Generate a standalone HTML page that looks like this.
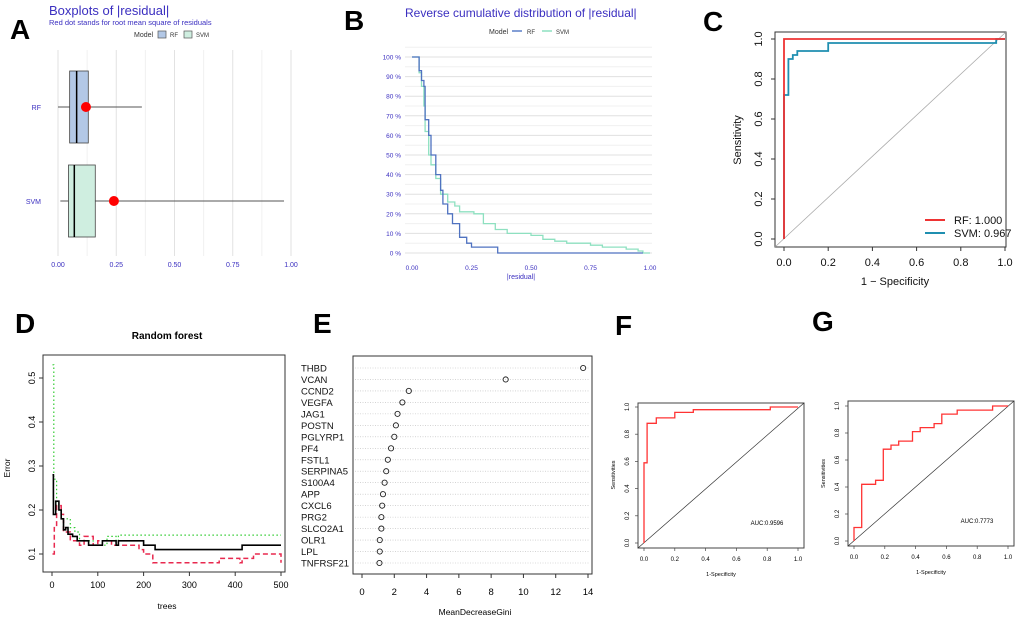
<!DOCTYPE html>
<html><head><meta charset="utf-8"><style>
body{margin:0;background:#fff}
svg{display:block;font-family:"Liberation Sans",sans-serif}
</style></head><body>
<svg id="fig" width="1020" height="621" viewBox="0 0 1020 621">
<g font-weight="bold" font-size="28" fill="#000">
<text x="10" y="39">A</text><text x="344" y="30">B</text><text x="703" y="31">C</text>
<text x="15" y="333">D</text><text x="313" y="333">E</text><text x="615" y="335">F</text><text x="812" y="331">G</text>
</g>
<g>
<text x="49" y="15" font-size="13" fill="#3b2fc0">Boxplots of |residual|</text>
<text x="49" y="25" font-size="7.5" fill="#3b2fc0">Red dot stands for root mean square of residuals</text>
<text x="134" y="37" font-size="7" fill="#333">Model</text>
<rect x="158" y="31" width="8" height="7" fill="#b3c8e6" stroke="#555" stroke-width="0.7"/><text x="170" y="37" font-size="6" fill="#333">RF</text>
<rect x="184" y="31" width="8" height="7" fill="#cfeee0" stroke="#555" stroke-width="0.7"/><text x="196" y="37" font-size="6" fill="#333">SVM</text>
</g>
<g>
<text x="405" y="17" font-size="12" fill="#3b2fc0">Reverse cumulative distribution of |residual|</text>
<text x="489" y="34" font-size="7" fill="#333">Model</text>
<line x1="512" y1="31" x2="522" y2="31" stroke="#5a7fc8" stroke-width="1.5"/><text x="527" y="34" font-size="6" fill="#333">RF</text>
<line x1="542" y1="31" x2="552" y2="31" stroke="#8ee0c0" stroke-width="1.5"/><text x="556" y="34" font-size="6" fill="#333">SVM</text>
</g>
<g id="A"></g><g id="B"></g><g id="C"></g><g id="D"></g><g id="E"></g><g id="F"></g><g id="G"></g>
</svg>
<script>
// ---- Panel A data
const boxModels=["RF","SVM"];
const boxLow=[0.0,0.01], boxQ1=[0.05,0.045], boxMed=[0.08,0.07], boxQ3=[0.13,0.16], boxHigh=[0.36,0.97], boxRmse=[0.12,0.24];
const aTicks=[0,0.25,0.5,0.75,1.0], aTickLabels=["0.00","0.25","0.50","0.75","1.00"];
// ---- Panel B data
const rfResX=[0,0.02,0.03,0.04,0.05,0.055,0.07,0.08,0.1,0.12,0.13,0.15,0.17,0.2,0.23,0.25,0.35,0.36,0.97];
const rfResY=[100,100,93,88,85,68,60,50,40,32,25,20,15,8,5,3,3,0,0];
const svmResX=[0,0.02,0.03,0.04,0.05,0.055,0.07,0.08,0.1,0.12,0.15,0.18,0.2,0.26,0.3,0.35,0.4,0.5,0.55,0.6,0.65,0.75,0.8,0.9,0.95,0.97,1.0];
const svmResY=[100,100,92,85,75,62,50,45,38,30,26,24,21,20,15,12,10,9,7,6,5,4,3,2,1,0,0];
const bYTicks=[0,10,20,30,40,50,60,70,80,90,100];
// ---- Panel C data
const cRfX=[0,0,0,0.96,1], cRfY=[0,0.72,1,1,1];
const cSvmX=[0,0,0.02,0.02,0.04,0.04,0.06,0.06,0.2,0.2,0.96,0.96,1];
const cSvmY=[0,0.72,0.72,0.9,0.9,0.92,0.92,0.94,0.94,0.98,0.98,1,1];
const cTicks=[0,0.2,0.4,0.6,0.8,1.0];
// ---- Panel D data
const dOobT=[1,3,8,15,20,25,30,35,45,55,70,80,100,110,130,140,145,190,200,225,360,365,410,415,500];
const dOobE=[0.28,0.19,0.22,0.2,0.18,0.155,0.16,0.145,0.14,0.13,0.13,0.12,0.12,0.13,0.13,0.12,0.13,0.13,0.12,0.11,0.11,0.11,0.11,0.12,0.12];
const dRedT=[1,5,10,20,25,40,60,70,90,100,130,150,190,200,220,360,365,410,415,440,500];
const dRedE=[0.1,0.16,0.21,0.19,0.15,0.13,0.12,0.14,0.12,0.13,0.12,0.12,0.11,0.1,0.08,0.08,0.09,0.08,0.09,0.1,0.08];
const dGrnT=[1,4,10,20,30,40,50,60,90,120,140,145,500];
const dGrnE=[0.53,0.27,0.2,0.18,0.18,0.16,0.15,0.13,0.12,0.14,0.12,0.143,0.143];
const dXTicks=[0,100,200,300,400,500], dYTicks=[0.1,0.2,0.3,0.4,0.5];
// ---- Panel E data
const genes=["THBD","VCAN","CCND2","VEGFA","JAG1","POSTN","PGLYRP1","PF4","FSTL1","SERPINA5","S100A4","APP","CXCL6","PRG2","SLCO2A1","OLR1","LPL","TNFRSF21"];
const gini=[13.7,8.9,2.9,2.5,2.2,2.1,2.0,1.8,1.6,1.5,1.4,1.3,1.25,1.2,1.2,1.1,1.1,1.08];
const eTicks=[0,2,4,6,8,10,12,14];
// ---- Panel F/G data
const fX=[0,0,0.02,0.02,0.08,0.08,0.2,0.2,0.32,0.32,0.82,0.82,1];
const fY=[0,0.59,0.59,0.88,0.88,0.92,0.92,0.96,0.96,0.98,0.98,1,1];
const gX=[0,0,0.05,0.05,0.14,0.14,0.19,0.19,0.24,0.24,0.29,0.29,0.38,0.38,0.43,0.43,0.52,0.52,0.57,0.57,0.67,0.67,0.9,0.9,1];
const gY=[0,0.1,0.1,0.42,0.42,0.45,0.45,0.68,0.68,0.71,0.71,0.74,0.74,0.81,0.81,0.84,0.84,0.87,0.87,0.94,0.94,0.97,0.97,1,1];
const rocTicks=[0,0.2,0.4,0.6,0.8,1.0];

const NS="http://www.w3.org/2000/svg";
function el(parent,tag,attrs,text){const e=document.createElementNS(NS,tag);for(const k in attrs)e.setAttribute(k,attrs[k]);if(text!==undefined)e.textContent=text;parent.appendChild(e);return e;}
function lin(d0,d1,r0,r1){return v=>r0+(v-d0)/(d1-d0)*(r1-r0);}
function pts(xs,ys,sx,sy){return xs.map((x,i)=>sx(x).toFixed(1)+","+sy(ys[i]).toFixed(1)).join(" ");}
function stepPts(xs,ys,sx,sy){let p=[];for(let i=0;i<xs.length;i++){if(i>0)p.push(sx(xs[i]).toFixed(1)+","+sy(ys[i-1]).toFixed(1));p.push(sx(xs[i]).toFixed(1)+","+sy(ys[i]).toFixed(1));}return p.join(" ");}

// Panel A
(function(){const g=document.getElementById("A");const sx=lin(0,1,58,291);
 for(const t of [0,0.125,0.25,0.375,0.5,0.625,0.75,0.875,1]){const l=el(g,"line",{x1:sx(t),x2:sx(t),y1:50,y2:256,stroke:t*8%2?"#f0f0f0":"#e2e2e2","stroke-width":1});
 }
 aTicks.forEach((t,i)=>{const tx=el(g,"text",{x:sx(t),y:267,"font-size":7,fill:"#3b2fc0","text-anchor":"middle"},aTickLabels[i]);
 });
 const rowY=[107,201], fills=["#b3c8e6","#cfeee0"];
 boxModels.forEach((m,i)=>{const y=rowY[i];
  const lb=el(g,"text",{x:41,y:y+3,"font-size":7,fill:"#3b2fc0","text-anchor":"end"},m);
  
  const w=el(g,"line",{x1:sx(boxLow[i]),x2:sx(boxHigh[i]),y1:y,y2:y,stroke:"#555","stroke-width":1});
  
  const r=el(g,"rect",{x:sx(boxQ1[i]),y:y-36,width:sx(boxQ3[i])-sx(boxQ1[i]),height:72,fill:fills[i],stroke:"#444","stroke-width":0.8});
  
  const md=el(g,"line",{x1:sx(boxMed[i]),x2:sx(boxMed[i]),y1:y-36,y2:y+36,stroke:"#000","stroke-width":1.5});
  
  const c=el(g,"circle",{cx:sx(boxRmse[i]),cy:y,r:5,fill:"#ff0000"});
  });
})();

// Panel B
(function(){const g=document.getElementById("B");const sx=lin(0,1,412,650), sy=lin(0,100,253,57);
 for(let v=0;v<=105;v+=5){const l=el(g,"line",{x1:405,x2:652,y1:sy(v),y2:sy(v),stroke:v%10?"#f0f0f0":"#e0e0e0","stroke-width":1});
 }
 bYTicks.forEach(v=>{const t=el(g,"text",{x:401,y:sy(v)+2.5,"font-size":6.5,fill:"#3b2fc0","text-anchor":"end"},v+" %");
 });
 aTicks.forEach((v,i)=>{const t=el(g,"text",{x:sx(v),y:270,"font-size":6.5,fill:"#3b2fc0","text-anchor":"middle"},aTickLabels[i]);
 });
 const xl=el(g,"text",{x:521,y:279,"font-size":7,fill:"#3b2fc0","text-anchor":"middle"},"|residual|");
 
 const s=el(g,"polyline",{points:stepPts(svmResX,svmResY,sx,sy),fill:"none",stroke:"#8ee0c0","stroke-width":1.3});
 
 const r=el(g,"polyline",{points:stepPts(rfResX,rfResY,sx,sy),fill:"none",stroke:"#4f72c0","stroke-width":1.3});
 
})();

// Panel C
(function(){const g=document.getElementById("C");const sx=lin(0,1,784,1005), sy=lin(0,1,239,39);
 const bx=el(g,"rect",{x:775,y:32,width:231,height:215,fill:"none",stroke:"#333","stroke-width":1});
 
 const d=el(g,"line",{x1:775,y1:247,x2:1006,y2:32,stroke:"#aaa","stroke-width":0.8});
 
 cTicks.forEach(v=>{el(g,"line",{x1:sx(v),x2:sx(v),y1:247,y2:251,stroke:"#333"});
  const t=el(g,"text",{x:sx(v),y:266,"font-size":11,"text-anchor":"middle",fill:"#111"},v.toFixed(1));
  
  el(g,"line",{x1:771,x2:775,y1:sy(v),y2:sy(v),stroke:"#333"});
  const u=el(g,"text",{x:0,y:0,"font-size":11,"text-anchor":"middle",fill:"#111",transform:"translate(762,"+sy(v)+") rotate(-90)"},v.toFixed(1));
  });
 const xt=el(g,"text",{x:895,y:285,"font-size":11,"text-anchor":"middle",fill:"#111"},"1 − Specificity");
 
 const yt=el(g,"text",{x:0,y:0,"font-size":11,"text-anchor":"middle",fill:"#111",transform:"translate(741,140) rotate(-90)"},"Sensitivity");
 
 const s=el(g,"polyline",{points:pts(cSvmX,cSvmY,sx,sy),fill:"none",stroke:"#1f8fb0","stroke-width":1.8});
 
 const r=el(g,"polyline",{points:pts(cRfX,cRfY,sx,sy),fill:"none",stroke:"#ee3333","stroke-width":1.8});
 
 el(g,"line",{x1:925,x2:945,y1:220,y2:220,stroke:"#ee3333","stroke-width":2});
 const l1=el(g,"text",{x:954,y:224,"font-size":11,fill:"#111"},"RF: 1.000");
 
 el(g,"line",{x1:925,x2:945,y1:233,y2:233,stroke:"#1f8fb0","stroke-width":2});
 const l2=el(g,"text",{x:954,y:237,"font-size":11,fill:"#111"},"SVM: 0.967");
 
})();

// Panel D
(function(){const g=document.getElementById("D");const sx=lin(0,500,52,281), sy=lin(0.1,0.5,554,378);
 const bx=el(g,"rect",{x:43,y:355,width:242,height:217,fill:"none",stroke:"#333","stroke-width":1});
 
 const ti=el(g,"text",{x:167,y:339,"font-size":10,"font-weight":"bold","text-anchor":"middle"},"Random forest");
 
 dXTicks.forEach(v=>{el(g,"line",{x1:sx(v),x2:sx(v),y1:572,y2:576,stroke:"#333"});
  const t=el(g,"text",{x:sx(v),y:588,"font-size":9,"text-anchor":"middle"},v);
  });
 dYTicks.forEach(v=>{el(g,"line",{x1:39,x2:43,y1:sy(v),y2:sy(v),stroke:"#333"});
  const t=el(g,"text",{x:0,y:0,"font-size":9,"text-anchor":"middle",transform:"translate(35,"+sy(v)+") rotate(-90)"},v);
  });
 const xt=el(g,"text",{x:167,y:609,"font-size":8.5,"text-anchor":"middle"},"trees");
 
 const yt=el(g,"text",{x:0,y:0,"font-size":8.5,"text-anchor":"middle",transform:"translate(10,468) rotate(-90)"},"Error");
 
 const gr=el(g,"polyline",{points:stepPts(dGrnT,dGrnE,sx,sy),fill:"none",stroke:"#33cc33","stroke-width":1.2,"stroke-dasharray":"1.5,2.5"});
 
 const rd=el(g,"polyline",{points:stepPts(dRedT,dRedE,sx,sy),fill:"none",stroke:"#e8294f","stroke-width":1.5,"stroke-dasharray":"5,3"});
 
 const bk=el(g,"polyline",{points:stepPts(dOobT,dOobE,sx,sy),fill:"none",stroke:"#000","stroke-width":1.6});
 
})();

// Panel E
(function(){const g=document.getElementById("E");const sx=lin(0,14,362,588), sy=i=>368+i*(195/17);
 const bx=el(g,"rect",{x:353,y:356,width:239,height:218,fill:"none",stroke:"#333","stroke-width":1});
 
 genes.forEach((gn,i)=>{el(g,"line",{x1:355,x2:590,y1:sy(i),y2:sy(i),stroke:"#bbb","stroke-width":0.6,"stroke-dasharray":"1,1.5"});
  const lb=el(g,"text",{x:301,y:sy(i)+3.5,"font-size":9.5,fill:"#111"},gn);
  
  const c=el(g,"circle",{cx:sx(gini[i]),cy:sy(i),r:2.6,fill:"none",stroke:"#222","stroke-width":0.9});
  });
 eTicks.forEach(v=>{el(g,"line",{x1:sx(v),x2:sx(v),y1:574,y2:578,stroke:"#333"});
  const t=el(g,"text",{x:sx(v),y:595,"font-size":9.5,"text-anchor":"middle"},v);
  });
 const xt=el(g,"text",{x:475,y:615,"font-size":8.5,"text-anchor":"middle"},"MeanDecreaseGini");
 
})();

// Panels F, G
function roc(id,xs,ys,box,x0,x1,y0,y1,auc,aucPos,ytx,ylx,tickY,xlY){
 const g=document.getElementById(id);const sx=lin(0,1,x0,x1), sy=lin(0,1,y0,y1);
 const bx=el(g,"rect",{x:box[0],y:box[1],width:box[2],height:box[3],fill:"none",stroke:"#444","stroke-width":1});
 
 const d=el(g,"line",{x1:box[0],y1:box[1]+box[3],x2:box[0]+box[2],y2:box[1],stroke:"#333","stroke-width":0.7});
 
 rocTicks.forEach(v=>{el(g,"line",{x1:sx(v),x2:sx(v),y1:box[1]+box[3],y2:box[1]+box[3]+3,stroke:"#444","stroke-width":0.7});
  const t=el(g,"text",{x:sx(v),y:tickY,"font-size":6,"text-anchor":"middle"},v.toFixed(1));
  
  el(g,"line",{x1:box[0]-3,x2:box[0],y1:sy(v),y2:sy(v),stroke:"#444","stroke-width":0.7});
  const u=el(g,"text",{x:0,y:0,"font-size":6,"text-anchor":"middle",transform:"translate("+ytx+","+sy(v)+") rotate(-90)"},v.toFixed(1));
  });
 const xt=el(g,"text",{x:(x0+x1)/2,y:xlY,"font-size":5.5,"text-anchor":"middle"},"1-Specificity");
 
 const yt=el(g,"text",{x:0,y:0,"font-size":5.5,"text-anchor":"middle",transform:"translate("+ylx+","+(y0+y1)/2+") rotate(-90)"},"Sensitivities");
 
 const c=el(g,"polyline",{points:pts(xs,ys,sx,sy),fill:"none",stroke:"#ff3333","stroke-width":1.3});
 
 const a=el(g,"text",{x:aucPos[0],y:aucPos[1],"font-size":6,"text-anchor":"middle"},auc);
 
}
roc("F",fX,fY,[638,403,166,145],644,798,543,407,"AUC:0.9596",[767,525],629,615,561,576);
roc("G",gX,gY,[848,401,166,145],854,1008,541,406,"AUC:0.7773",[977,523],839,825,559,574);
</script>
</body></html>
